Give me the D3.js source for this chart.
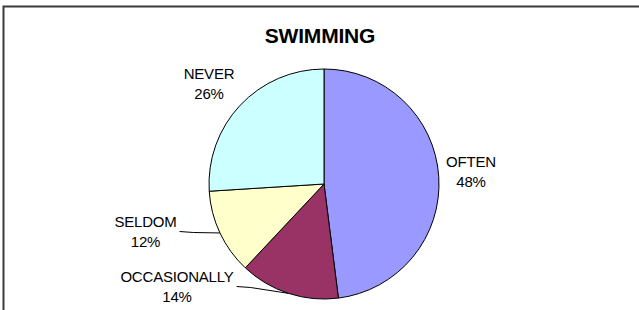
<!DOCTYPE html>
<html>
<head>
<meta charset="utf-8">
<script src="https://cdn.jsdelivr.net/npm/d3@7"></script>
<style>
  html, body { margin: 0; padding: 0; background: #fff; }
  svg { display: block; }
</style>
</head>
<body>
<svg id="chart" width="639" height="310"></svg>
<script>
const title = "SWIMMING";
const categories = ["OFTEN", "OCCASIONALLY", "SELDOM", "NEVER"];
const values = [48, 14, 12, 26];
const colors = ["#9999FF", "#993366", "#FFFFCC", "#CCFFFF"];

const svg = d3.select("#chart");

// outer frame (only top and left visible in window)
svg.append("rect")
  .attr("x", 3.5).attr("y", 6.5)
  .attr("width", 700).attr("height", 400)
  .attr("fill", "#fff")
  .attr("stroke", "#3a3a3a")
  .attr("stroke-width", 2);

svg.append("text")
  .attr("x", 320).attr("y", 42.5)
  .attr("text-anchor", "middle")
  .attr("font-family", "Liberation Sans, Arial, sans-serif")
  .attr("font-weight", "bold")
  .attr("font-size", 21)
  .attr("letter-spacing", -0.2)
  .text(title);

const cx = 324, cy = 184, r = 115;
const data = categories.map((c, i) => ({ cat: c, value: values[i], color: colors[i] }));
const total = d3.sum(values);

const pie = d3.pie().sort(null).value(d => d.value);
const arcs = pie(data);
const arc = d3.arc().innerRadius(0).outerRadius(r);

const g = svg.append("g").attr("transform", `translate(${cx},${cy})`);
g.selectAll("path")
  .data(arcs)
  .join("path")
  .attr("d", arc)
  .attr("fill", d => d.data.color)
  .attr("stroke", "#000")
  .attr("stroke-width", 1)
  .attr("stroke-linejoin", "round");

// label placement, relative to pie center (first line center)
const labelOffsets = {
  "OFTEN": [147, -22, false],
  "OCCASIONALLY": [-147, 93, true],
  "SELDOM": [-178.5, 38, true],
  "NEVER": [-115, -110, false]
};

const fs = 15;
arcs.forEach(a => {
  const [dx, dy, leader] = labelOffsets[a.data.cat];
  const pct = Math.round(a.data.value / total * 100) + "%";
  const t = g.append("text")
    .attr("text-anchor", "middle")
    .attr("font-family", "Liberation Sans, Arial, sans-serif")
    .attr("font-size", fs)
    .attr("letter-spacing", -0.2)
    .attr("fill", "#000");
  t.append("tspan").attr("x", dx).attr("y", dy + fs * 0.36).text(a.data.cat);
  t.append("tspan").attr("x", dx).attr("y", dy + 20 + fs * 0.36).text(pct);
  if (leader) {
    const w = t.select("tspan").node().getComputedTextLength();
    const mid = (a.startAngle + a.endAngle) / 2;
    const ex = r * Math.sin(mid), ey = -r * Math.cos(mid);
    const sx = dx + w / 2 + 3, sy = dy + 9.5;
    g.append("path")
      .attr("d", d3.line()([[sx, sy], [sx + 14, sy + 1], [ex, ey]]))
      .attr("fill", "none")
      .attr("stroke", "#000")
      .attr("stroke-width", 1);
  }
});
</script>
</body>
</html>
